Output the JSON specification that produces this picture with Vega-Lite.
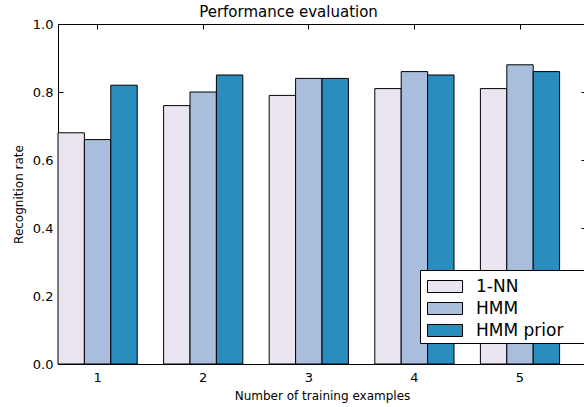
{
  "$schema": "https://vega.github.io/schema/vega-lite/v6.json",
  "autosize": "none",
  "padding": {"left": 58, "top": 24, "right": 0, "bottom": 43},
  "width": 528,
  "height": 340,
  "config": {
    "font": "DejaVu Sans",
    "view": {"stroke": "black", "strokeWidth": 1},
    "axis": {"grid": false, "domainColor": "black", "tickColor": "black", "labelColor": "black", "titleColor": "black", "labelFont": "DejaVu Sans", "titleFont": "DejaVu Sans", "labelFontSize": 13, "titleFontSize": 12, "titleFontWeight": "normal", "tickSize": -5}
  },
  "data": {"values": [
    {"n": 1, "method": "1-NN", "rate": 0.68},
    {"n": 1, "method": "HMM", "rate": 0.66},
    {"n": 1, "method": "HMM prior", "rate": 0.82},
    {"n": 2, "method": "1-NN", "rate": 0.76},
    {"n": 2, "method": "HMM", "rate": 0.80},
    {"n": 2, "method": "HMM prior", "rate": 0.85},
    {"n": 3, "method": "1-NN", "rate": 0.79},
    {"n": 3, "method": "HMM", "rate": 0.84},
    {"n": 3, "method": "HMM prior", "rate": 0.84},
    {"n": 4, "method": "1-NN", "rate": 0.81},
    {"n": 4, "method": "HMM", "rate": 0.86},
    {"n": 4, "method": "HMM prior", "rate": 0.85},
    {"n": 5, "method": "1-NN", "rate": 0.81},
    {"n": 5, "method": "HMM", "rate": 0.88},
    {"n": 5, "method": "HMM prior", "rate": 0.86}
  ]},
  "layer": [
    {
      "mark": {"type": "bar", "stroke": "black", "strokeWidth": 1, "opacity": 1},
      "encoding": {
        "x": {"field": "n", "type": "ordinal", "scale": {"paddingInner": 0.25, "paddingOuter": 0.125, "align": 0},
              "axis": {"title": "Number of training examples", "labelAngle": 0, "labelPadding": 12, "titlePadding": 6}},
        "xOffset": {"field": "method", "type": "nominal", "sort": ["1-NN", "HMM", "HMM prior"], "scale": {"paddingInner": 0, "paddingOuter": 0}},
        "y": {"field": "rate", "type": "quantitative", "scale": {"domain": [0, 1], "nice": false},
              "axis": {"title": "Recognition rate", "values": [0, 0.2, 0.4, 0.6, 0.8, 1.0], "format": ".1f", "labelPadding": 10, "titlePadding": 7}},
        "fill": {"field": "method", "type": "nominal", "sort": ["1-NN", "HMM", "HMM prior"],
                 "scale": {"domain": ["1-NN", "HMM", "HMM prior"], "range": ["#ebe5f2", "#a8bedc", "#2b8cbe"]},
                 "legend": {"title": "MM", "titleOrient": "right", "titleAngle": 0, "titleFontSize": 9, "titlePadding": 0, "titleOpacity": 0,
                            "orient": "none", "legendX": 362, "legendY": 246,
                            "fillColor": "white", "strokeColor": "black", "padding": 4, "cornerRadius": 0,
                            "symbolType": "M-0.75,-0.5H2.17V0.5H-0.75Z", "symbolSize": 576,
                            "symbolStrokeColor": "black", "symbolStrokeWidth": 1, "symbolOpacity": 1,
                            "labelFontSize": 17, "labelFont": "DejaVu Sans", "labelColor": "black", "labelOffset": 27, "rowPadding": 1}}
      }
    },
    {
      "mark": {"type": "bar", "opacity": 0},
      "encoding": {
        "x": {"field": "n", "type": "ordinal", "axis": {"orient": "top", "title": "Performance evaluation", "titleFontSize": 15, "titlePadding": 4, "titleAnchor": "middle", "titleX": 230, "labels": false, "domain": false, "labelPadding": 0}},
        "y": {"field": "rate", "type": "quantitative", "axis": {"orient": "right", "title": null, "labels": false, "domain": false, "labelPadding": 0, "values": [0, 0.2, 0.4, 0.6, 0.8, 1.0]}}
      }
    }
  ],
  "resolve": {"axis": {"x": "independent", "y": "independent"}}
}
